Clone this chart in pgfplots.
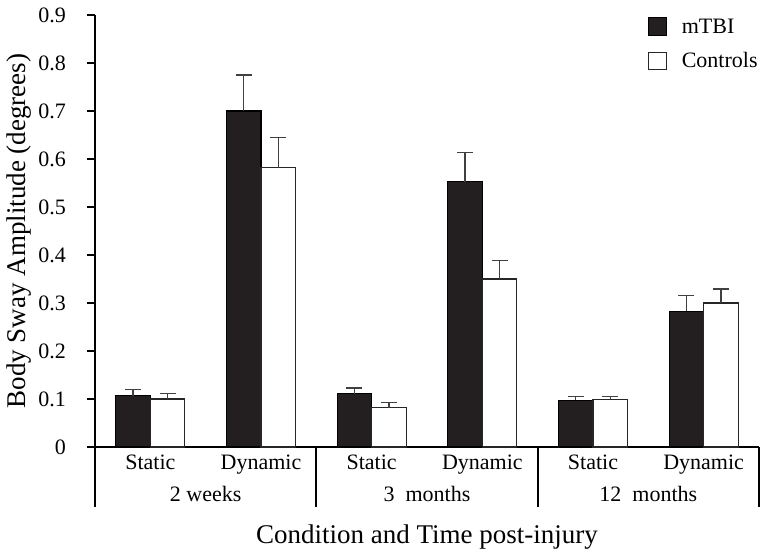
\documentclass[border=0pt]{standalone}
\usepackage{fontspec}
\setmainfont{Liberation Serif}
\usepackage{pgfplots}
\usepackage{pgfplotstable}
\pgfplotsset{compat=1.18}
\definecolor{barblack}{HTML}{231F20}
\definecolor{errgray}{HTML}{404040}

\pgfplotstableread{
x   y     e
0.5 0.107 0.012
1.5 0.700 0.075
2.5 0.111 0.012
3.5 0.553 0.061
4.5 0.097 0.008
5.5 0.283 0.032
}\mtbi
\pgfplotstableread{
x   y     e
0.5 0.100 0.011
1.5 0.582 0.063
2.5 0.082 0.010
3.5 0.350 0.038
4.5 0.099 0.006
5.5 0.300 0.029
}\controls

\begin{document}
\begin{tikzpicture}
\useasboundingbox (-95bp,-107bp) rectangle (670bp,447bp);
\begin{axis}[
  at={(0,0)}, anchor=south west,
  scale only axis, width=664bp, height=432bp,
  xmin=0, xmax=6, ymin=0, ymax=0.9,
  clip=false,
  axis lines=left,
  axis line style={-, line width=1.8bp, black},
  ybar, bar width=34.5bp,
  /pgf/number format/assume math mode=true,
  ytick={0,0.1,0.2,0.3,0.4,0.5,0.6,0.7,0.8,0.9},
  yticklabel style={/pgf/number format/fixed, /pgf/number format/precision=1,
    font=\fontsize{22bp}{26bp}\selectfont, anchor=east, inner sep=0pt, xshift=-21bp},
  tick align=outside, major tick length=8bp,
  tick style={line width=1.8bp, black},
  xtick={0.5,1.5,2.5,3.5,4.5,5.5},
  xticklabels={Static,Dynamic,Static,Dynamic,Static,Dynamic},
  xtick style={draw=none},
  xticklabel style={font=\fontsize{22bp}{26bp}\selectfont, anchor=base, yshift=-14bp},
  xlabel={Condition and Time post-injury},
  xlabel style={font=\fontsize{27bp}{32bp}\selectfont, at={(axis description cs:0.5,0)}, anchor=base, yshift=-96bp},
  ylabel={Body Sway Amplitude (degrees)},
  ylabel style={font=\fontsize{27bp}{32bp}\selectfont, at={(axis description cs:-0.1054,0.5)}, anchor=base},
  legend style={at={(axis description cs:0.833,0.995)}, anchor=north west, draw=none, fill=none,
    font=\fontsize{22bp}{26bp}\selectfont, row sep=16bp, inner sep=0pt,
    nodes={inner sep=0pt}, column sep=15bp},
  legend cell align=left,
  legend image code/.code={\draw[#1, line width=1bp] (0bp,-8.75bp) rectangle (17.5bp,8.75bp);},
]
\addplot[bar shift=-17.25bp, fill=barblack, draw=black, line width=1.2bp,
  error bars/.cd, y dir=plus, y explicit,
  error bar style={line width=1.2bp, color=errgray},
  error mark options={rotate=90, mark size=8bp, line width=1.2bp, color=errgray}]
  table[x=x, y=y, y error plus=e] {\mtbi};
\addlegendentry{mTBI}
\addplot[bar shift=17.25bp, fill=white, draw=black!85, line width=1.2bp,
  error bars/.cd, y dir=plus, y explicit,
  error bar style={line width=1.2bp, color=errgray},
  error mark options={rotate=90, mark size=8bp, line width=1.2bp, color=errgray}]
  table[x=x, y=y, y error plus=e] {\controls};
\addlegendentry{Controls}
\draw[line width=1.8bp] (axis cs:0,0) -- ++(0bp,-60bp);
\draw[line width=1.8bp] (axis cs:2,0) -- ++(0bp,-60bp);
\draw[line width=1.8bp] (axis cs:4,0) -- ++(0bp,-60bp);
\draw[line width=1.8bp] (axis cs:6,0) -- ++(0bp,-60bp);
\node[anchor=base, yshift=-54bp, font=\fontsize{22bp}{26bp}\selectfont] at (axis cs:1,0) {2 weeks};
\node[anchor=base, yshift=-54bp, font=\fontsize{22bp}{26bp}\selectfont] at (axis cs:3,0) {3\ \ months};
\node[anchor=base, yshift=-54bp, font=\fontsize{22bp}{26bp}\selectfont] at (axis cs:5,0) {12\ \ months};
\end{axis}
\end{tikzpicture}
\end{document}
